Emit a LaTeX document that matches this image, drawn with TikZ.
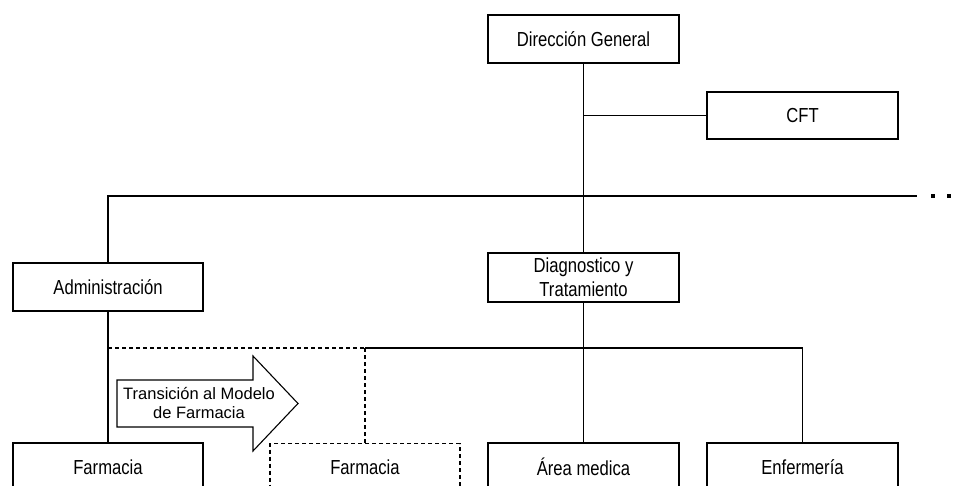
\documentclass[tikz,border=0pt]{standalone}
\usepackage{fontspec}
\setmainfont{Liberation Sans}
\newfontfamily\narrowfont[FakeStretch=0.82]{Liberation Sans}
\begin{document}
\begin{tikzpicture}[x=1pt,y=-1pt,
  unit/.style={draw, line width=1.2pt, minimum width=191pt, minimum height=48pt,
    inner sep=0pt, align=center, font=\narrowfont\fontsize{20.3}{24}\selectfont},
  pending/.style={unit, dash pattern=on 4pt off 3pt},
  link/.style={line width=1.2pt},
  dlink/.style={link, dash pattern=on 4pt off 3pt}]
\useasboundingbox (0,0) rectangle (961,486);
\clip (0,0) rectangle (961,486);

% units
\node[unit] (dg)    at (583.5,39)   {Dirección General};
\node[unit, minimum height=47pt] (cft) at (802.5,115.5) {CFT};
\node[unit, minimum width=190pt] (adm) at (108,287) {Administración};
\node[unit, minimum height=49pt] (diag) at (583.5,277.5) {Diagnostico y\\Tratamiento};
\node[unit, minimum width=190pt] (farm) at (108,467) {Farmacia};
\node[pending, minimum width=190pt] (farmn) at (365,467.5) {Farmacia};
\node[unit] (area)  at (583.5,467)  {Área medica};
\node[unit] (enf)   at (802.5,467)  {Enfermería};

% bus lines
\coordinate (busA) at (108,196);
\coordinate (busEnd) at (917,196);
\coordinate (busB) at (108,348);
\coordinate (busSplit) at (365,348);

% connectors
\draw[link] (dg.south) -- (diag.north);
\draw[link] (diag.south) -- (area.north);
\draw[link] (dg.south |- cft.west) -- (cft.west);
\draw[link] (adm.north) -- (busA) -- (busEnd);
\draw[link] (adm.south) -- (farm.north);
\draw[dlink] (busB) -- (busSplit);
\draw[link] (busSplit) -- (enf.north |- busSplit) -- (enf.north);
\draw[dlink] (busSplit) -- (farmn.north);

% continuation marks
\fill (931,194) rectangle (935,198);
\fill (947,194) rectangle (951,198);

% transition arrow
\draw[line width=1.1pt, fill=white]
  (117,380) -- (253,380) -- (253,356) -- (298,403.5) -- (253,451)
  -- (253,427) -- (117,427) -- cycle;
\node[align=center, inner sep=0pt, font=\fontsize{16.5}{19}\selectfont]
  (trans) at (199,403.5) {Transición al Modelo\\de Farmacia};
\end{tikzpicture}
\end{document}
